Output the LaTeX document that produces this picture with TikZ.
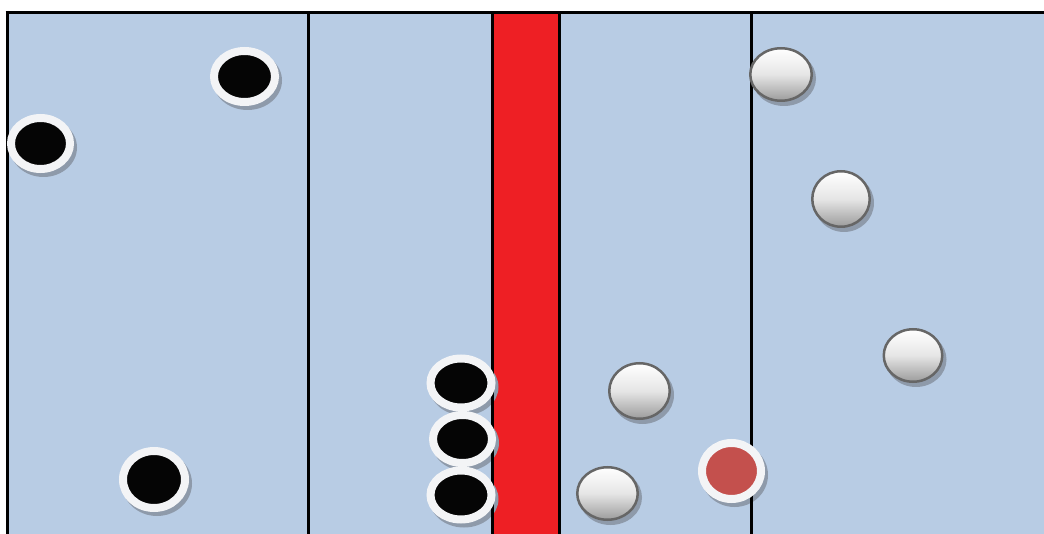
\documentclass[tikz,border=0pt]{standalone}
\definecolor{bgblue}{HTML}{B8CCE4}
\definecolor{bandred}{HTML}{EE1F24}
\definecolor{ringwhite}{HTML}{F3F4F6}
\definecolor{puckblack}{HTML}{050505}
\definecolor{innerred}{HTML}{C4504D}
\definecolor{shadowgray}{HTML}{8E9AAA}
\definecolor{outlinegray}{HTML}{666666}
\definecolor{puckgray}{HTML}{9C9C9C}
\tikzset{
  frameline/.style={line width=3pt, black},
  divline/.style={line width=3pt, black},
  shadowfill/.style={fill=shadowgray},
  ringpuck/.style={draw=ringwhite, line width=8pt},
  whitepuck/.style={top color=white, bottom color=puckgray, middle color=black!10, draw=outlinegray, line width=2.5pt},
}
% #1 x, #2 y, #3 rx (outer), #4 ry (outer), #5 fill
\newcommand\puckshadow[4]{\fill[shadowfill] (#1+3,#2+4) ellipse [x radius=#3, y radius=#4];}
\newcommand\ringpk[5]{\filldraw[ringpuck, fill=#5] (#1,#2) ellipse [x radius=#3-4, y radius=#4-4];}
\newcommand\whitepk[4]{\shade[whitepuck] (#1,#2) ellipse [x radius=#3-1.25, y radius=#4-1.25];}
\begin{document}
\begin{tikzpicture}[x=1pt,y=-1pt]
\useasboundingbox (0,0) rectangle (1044,534);
\fill[white] (0,0) rectangle (1044,534);
\fill[bgblue] (7,12) rectangle (1044,534);
\fill[bandred] (492,12) rectangle (559,534);
% shadows
\puckshadow{40.5}{143.5}{33.5}{29.5}
\puckshadow{244.5}{76.5}{34.5}{29.5}
\puckshadow{154}{479.5}{35}{32.5}
\puckshadow{461}{383}{34.5}{28.5}
\puckshadow{462.5}{439}{33.5}{28}
\puckshadow{461}{495}{34.5}{28.5}
\puckshadow{731.5}{471}{33.5}{32}
\puckshadow{781}{74.5}{32}{27.5}
\puckshadow{841}{199}{30}{29}
\puckshadow{913}{355.5}{30.5}{27.5}
\puckshadow{639.5}{391}{31.5}{29}
\puckshadow{607.5}{493.5}{31.5}{27.5}
% lines
\draw[frameline] (5.5,12.5) -- (1044,12.5);
\draw[frameline] (7,11) -- (7,534);
\draw[divline] (308,12) -- (308,534);
\draw[divline] (492.5,12) -- (492.5,534);
\draw[divline] (559,12) -- (559,534);
\draw[divline] (751,12) -- (751,534);
% black pucks
\ringpk{40.5}{143.5}{33.5}{29.5}{puckblack}
\ringpk{244.5}{76.5}{34.5}{29.5}{puckblack}
\ringpk{154}{479.5}{35}{32.5}{puckblack}
\ringpk{461}{383}{34.5}{28.5}{puckblack}
\ringpk{462.5}{439}{33.5}{28}{puckblack}
\ringpk{461}{495}{34.5}{28.5}{puckblack}
% red puck
\ringpk{731.5}{471}{33.5}{32}{innerred}
% white pucks
\whitepk{781}{74.5}{32}{27.5}
\whitepk{841}{199}{30}{29}
\whitepk{913}{355.5}{30.5}{27.5}
\whitepk{639.5}{391}{31.5}{29}
\whitepk{607.5}{493.5}{31.5}{27.5}
\end{tikzpicture}
\end{document}
